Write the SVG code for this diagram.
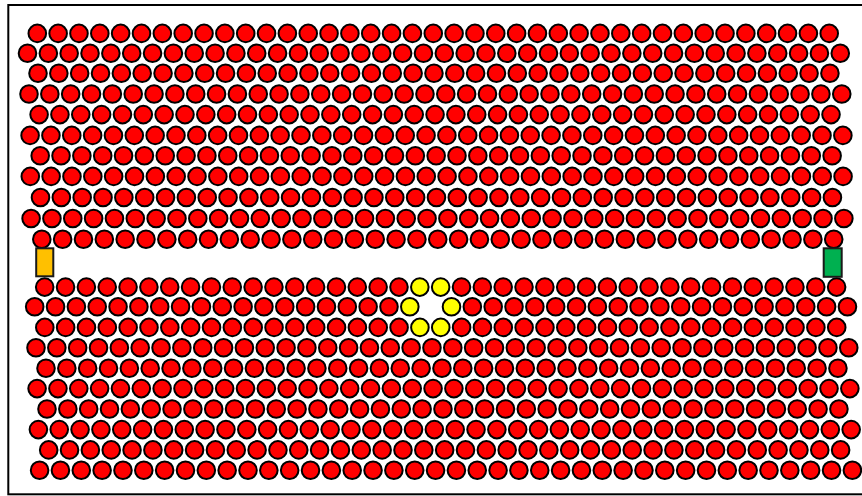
<svg xmlns="http://www.w3.org/2000/svg" xmlns:xlink="http://www.w3.org/1999/xlink" width="862" height="496" viewBox="0 0 862 496">
<style>
.red{fill:#ff0000}
.yel{fill:#ffff00}
.frame{fill:#ffffff;stroke:#000000;stroke-width:2}
.src{fill:#ffc000;stroke:#1a1a1a;stroke-width:2}
.det{fill:#00b050;stroke:#1a1a1a;stroke-width:2}
</style>
<defs>
<circle id="c" r="8.8"/>
<g id="s18">
<circle cx="0" r="8.8"/><circle cx="20.84" r="8.8"/><circle cx="41.68" r="8.8"/><circle cx="62.52" r="8.8"/><circle cx="83.36" r="8.8"/><circle cx="104.2" r="8.8"/><circle cx="125.04" r="8.8"/><circle cx="145.88" r="8.8"/><circle cx="166.72" r="8.8"/><circle cx="187.56" r="8.8"/><circle cx="208.4" r="8.8"/><circle cx="229.24" r="8.8"/><circle cx="250.08" r="8.8"/><circle cx="270.92" r="8.8"/><circle cx="291.76" r="8.8"/><circle cx="312.6" r="8.8"/><circle cx="333.44" r="8.8"/><circle cx="354.28" r="8.8"/>
</g>
<g id="s19">
<use href="#s18"/><circle cx="375.12" r="8.8"/>
</g>
<g id="r39">
<use href="#s18"/><use href="#c" x="375.12"/><use href="#c" x="395.96"/><use href="#s19" x="416.8"/>
</g>
<g id="r40">
<use href="#s18"/><use href="#c" x="375.12"/><use href="#c" x="395.96"/><use href="#c" x="416.8"/><use href="#s19" x="437.64"/>
</g>
</defs>
<rect class="frame" x="8.3" y="5" width="870" height="489.3"/>
<g id="lattice-top" stroke="#000000" stroke-width="2">
<use class="red" href="#r39" x="37.3" y="33.4"/>
<use class="red" href="#r40" x="27.5" y="53.3"/>
<use class="red" href="#r39" x="38.0" y="73.2"/>
<use class="red" href="#r40" x="29.0" y="94.0"/>
<use class="red" href="#r39" x="39.1" y="114.6"/>
<use class="red" href="#r40" x="30.1" y="135.4"/>
<use class="red" href="#r39" x="40.2" y="155.7"/>
<use class="red" href="#r40" x="30.3" y="176.4"/>
<use class="red" href="#r39" x="40.5" y="197.5"/>
<use class="red" href="#r40" x="31.1" y="218.5"/>
<use class="red" href="#r39" x="41.8" y="239.2"/>
</g>
<g id="lattice-bottom" stroke="#000000" stroke-width="2">
<g id="row-b1" transform="translate(44.7 287.1)">
<use class="red" href="#s18"/><use class="yel" href="#c" x="375.12"/><use class="yel" href="#c" x="395.96"/><use class="red" href="#s19" x="416.8"/>
</g>
<g id="row-b2" transform="translate(34.7 306.7)">
<use class="red" href="#s18"/><use class="yel" href="#c" x="375.12"/><use class="yel" href="#c" x="416.8"/><use class="red" href="#s19" x="437.64"/>
</g>
<g id="row-b3" transform="translate(44.8 327.4)">
<use class="red" href="#s18"/><use class="yel" href="#c" x="375.12"/><use class="yel" href="#c" x="395.96"/><use class="red" href="#s19" x="416.8"/>
</g>
<use class="red" href="#r40" x="36.0" y="347.7"/>
<use class="red" href="#r39" x="46.0" y="368.3"/>
<use class="red" href="#r40" x="37.1" y="388.6"/>
<use class="red" href="#r39" x="47.0" y="409.0"/>
<use class="red" href="#r40" x="38.4" y="429.6"/>
<use class="red" href="#r39" x="48.7" y="449.9"/>
<use class="red" href="#r40" x="39.6" y="470.2"/>
</g>
<g id="source"><rect class="src" x="36.2" y="248.3" width="17.1" height="28"/></g>
<g id="detector"><rect class="det" x="823.7" y="248.3" width="18" height="28.5"/></g>
</svg>
